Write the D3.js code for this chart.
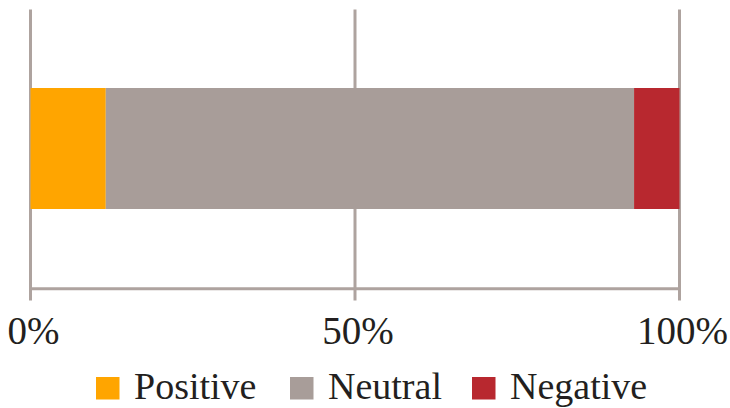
<!DOCTYPE html>
<html>
<head>
<meta charset="utf-8">
<script src="https://cdn.jsdelivr.net/npm/d3@7"></script>
<style>
  html, body { margin: 0; padding: 0; background: #fff; }
  svg { display: block; }
  svg text { font-family: "Liberation Serif", "Times New Roman", Times, "DejaVu Serif", "Noto Serif", serif; }
</style>
</head>
<body>
<svg id="chart" width="730" height="408"></svg>
<script>
const categories = ["Positive", "Neutral", "Negative"];
const values = [11.6, 81.4, 7.0];
const colors = ["#FFA500", "#A89D99", "#B8282F"];
const tickValues = [0, 50, 100];
const tickLabels = ["0%", "50%", "100%"];

const svg = d3.select("#chart");
const textColor = "#231F20";
const gridColor = "#AEA39F";

const x = d3.scaleLinear().domain([0, 100]).range([30.5, 679.5]);

// gridlines
svg.append("g").selectAll("line").data(tickValues).join("line")
  .attr("x1", d => x(d)).attr("x2", d => x(d))
  .attr("y1", 9.5).attr("y2", 300.5)
  .attr("stroke", gridColor).attr("stroke-width", 3);

// axis baseline
svg.append("line")
  .attr("x1", x(0) + 1.5).attr("x2", x(100) - 1.5)
  .attr("y1", 288.7).attr("y2", 288.7)
  .attr("stroke", gridColor).attr("stroke-width", 3);

// stacked bar
let acc = 0;
const segs = values.map((v, i) => { const s = { x0: acc, x1: acc + v, c: colors[i] }; acc += v; return s; });
svg.append("g").selectAll("rect").data(segs).join("rect")
  .attr("x", d => x(d.x0)).attr("width", d => x(d.x1) - x(d.x0))
  .attr("y", 88).attr("height", 121)
  .attr("fill", d => d.c);

// tick labels
svg.append("g").selectAll("text").data(tickValues).join("text")
  .attr("x", (d) => x(d) + 3)
  .attr("y", 344)
  .attr("text-anchor", "middle")
  .style("font-size", "39px")
  .attr("fill", textColor)
  .text((d, i) => tickLabels[i]);

// legend
const legend = svg.append("g");
const legendStarts = [96, 290, 472];
categories.forEach((c, i) => {
  const g = legend.append("g").attr("transform", `translate(${legendStarts[i]},0)`);
  g.append("rect").attr("x", 0).attr("y", 377).attr("width", 23.5).attr("height", 22.5).attr("fill", colors[i]);
  g.append("text").attr("x", 38).attr("y", 399)
    .style("font-size", "38px")
    .attr("fill", textColor).text(c);
});
</script>
</body>
</html>
